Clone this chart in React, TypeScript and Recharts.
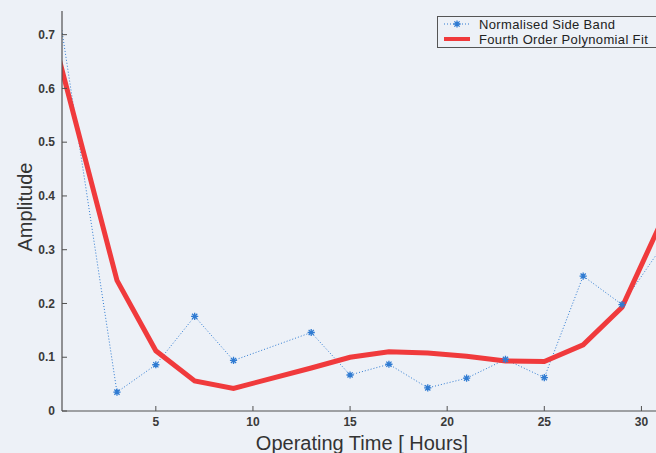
import React from 'react';
import { LineChart, Line, XAxis, YAxis } from 'recharts';

const timeHours = [0, 3, 5, 7, 9, 13, 15, 17, 19, 21, 23, 25, 27, 29, 31];
const sideBand = [0.747, 0.035, 0.086, 0.176, 0.094, 0.146, 0.067, 0.087, 0.043, 0.061, 0.096, 0.062, 0.251, 0.198, 0.303];
const polyFit = [0.658, 0.243, 0.112, 0.056, 0.042, 0.080, 0.100, 0.110, 0.108, 0.102, 0.093, 0.092, 0.123, 0.193, 0.350];
const xTicks = [5, 10, 15, 20, 25, 30];
const yTicks = [0, 0.1, 0.2, 0.3, 0.4, 0.5, 0.6, 0.7];
const seriesNames = ['Normalised Side Band', 'Fourth Order Polynomial Fit'];

const data = timeHours.map((t, i) => ({ t, band: sideBand[i], fit: polyFit[i] }));

const FONT = '"Liberation Sans", Arial, sans-serif';
const BG = '#edf1f7';
const AXIS = '#505050';
const BLUE = '#2f7bd2';
const RED = '#f03a3c';

const Star = (props: any) => {
  const { cx, cy, index } = props;
  if (cx == null || cy == null) return <g key={index} />;
  const r = 3.6;
  const d = 2.6;
  return (
    <path
      key={index}
      d={`M${cx - r},${cy}h${2 * r}M${cx},${cy - r}v${2 * r}M${cx - d},${cy - d}l${2 * d},${2 * d}M${cx - d},${cy + d}l${2 * d},${-2 * d}`}
      stroke={BLUE}
      strokeWidth={1.3}
      fill="none"
    />
  );
};

const LegendBox = () => (
  <svg width={230} height={34} style={{ display: 'block', overflow: 'visible' }}>
    <rect x={0.5} y={0.5} width={240} height={31} fill={BG} stroke="#555" strokeWidth={1} />
    <line x1={7} y1={8} x2={33} y2={8} stroke={BLUE} strokeWidth={1} strokeDasharray="1 2" />
    <Star cx={20} cy={8} index={0} />
    <line x1={7} y1={23} x2={33} y2={23} stroke={RED} strokeWidth={4} />
    <text x={42} y={8} dominantBaseline="central" fontSize={13} letterSpacing={0.35} fontFamily={FONT} fill="#222">{seriesNames[0]}</text>
    <text x={42} y={23} dominantBaseline="central" fontSize={13} letterSpacing={0.35} fontFamily={FONT} fill="#222">{seriesNames[1]}</text>
  </svg>
);

const tickStyle = { fontSize: 12, fontFamily: FONT, fill: '#3a3a3a', fontWeight: 'bold' as const };

export default function App() {
  return (
    <div style={{ position: 'absolute', left: 0, top: 0, width: 656, height: 453, overflow: 'hidden', background: BG }}>
      <LineChart width={656} height={453} data={data} margin={{ top: 11, right: 0, left: 0, bottom: 0 }}>
        <XAxis
          xAxisId="top"
          orientation="top"
          dataKey="t"
          type="number"
          domain={[0.17, 30.75]}
          allowDataOverflow
          ticks={xTicks}
          height={0}
          tickSize={-5}
          tickFormatter={() => ''}
          axisLine={{ stroke: AXIS, strokeWidth: 1.2 }}
          tickLine={{ stroke: AXIS }}
        />
        <XAxis
          dataKey="t"
          type="number"
          domain={[0.17, 30.75]}
          allowDataOverflow
          ticks={xTicks}
          height={42}
          tickSize={-5}
          tickMargin={11}
          axisLine={{ stroke: AXIS, strokeWidth: 1.2 }}
          tickLine={{ stroke: AXIS }}
          tick={tickStyle}
          label={(p: any) => {
            const vb = p.viewBox || {};
            return (
              <text x={vb.x + vb.width / 2 + 3} y={450} textAnchor="middle" fontSize={20} fontFamily={FONT} fill="#333">
                Operating Time [ Hours]
              </text>
            );
          }}
        />
        <YAxis
          type="number"
          domain={[0, 0.744]}
          allowDataOverflow
          ticks={yTicks}
          width={62}
          tickSize={-5}
          tickMargin={12}
          tickFormatter={(v: number) => (v === 0 ? '0' : String(v))}
          axisLine={{ stroke: AXIS, strokeWidth: 1.2 }}
          tickLine={{ stroke: AXIS }}
          tick={tickStyle}
          label={(p: any) => {
            const vb = p.viewBox || {};
            const cx = 25;
            const cy = vb.y + vb.height / 2 - 4;
            return (
              <text x={cx} y={cy} transform={`rotate(-90, ${cx}, ${cy})`} textAnchor="middle" dominantBaseline="central" fontSize={20} fontFamily={FONT} fill="#333">
                Amplitude
              </text>
            );
          }}
        />
        <Line
          dataKey="band"
          name={seriesNames[0]}
          stroke={BLUE}
          strokeWidth={1}
          strokeDasharray="1 2"
          dot={<Star />}
          activeDot={false}
          isAnimationActive={false}
          type="linear"
        />
        <Line
          dataKey="fit"
          name={seriesNames[1]}
          stroke={RED}
          strokeWidth={5}
          dot={false}
          activeDot={false}
          isAnimationActive={false}
          type="linear"
        />
      </LineChart>
      <div style={{ position: 'absolute', left: 437, top: 16 }}>
        <LegendBox />
      </div>
    </div>
  );
}
